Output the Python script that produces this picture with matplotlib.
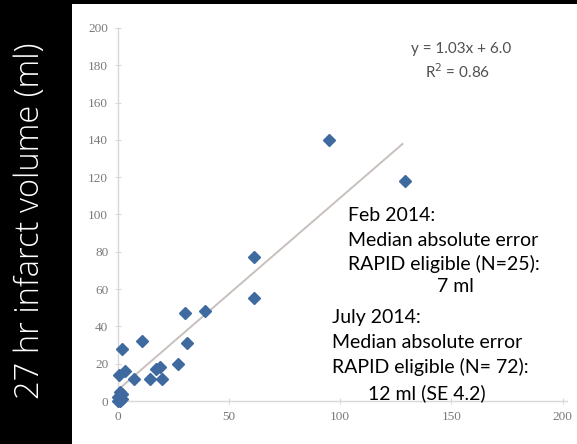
import matplotlib.pyplot as plt
from matplotlib.patches import Rectangle

# scatter data (predicted vs. 27 hr infarct volume, ml)
x_vals = [95, 129, 61, 61, 39, 30, 31, 27, 19, 17, 14.5, 20, 7, 11, 2, 3, 0.5,
          0, 1, 2, 1, 2, 1, 0]
y_vals = [140, 118, 77, 55, 48, 47, 31, 20, 18, 17, 12, 12, 12, 32, 28, 16, 14,
          0, 0, 1, 2, 4, 5, 2]

# trendline shown in the chart
slope = 1.03
intercept = 6.0
trend_x = [0, 128]

x_ticks = [0, 50, 100, 150, 200]
y_ticks = [0, 20, 40, 60, 80, 100, 120, 140, 160, 180, 200]

W, H = 577, 444
fig = plt.figure(figsize=(W / 100, H / 100), dpi=100)
fig.patch.set_facecolor('black')

# white slide panel
fig.patches.append(Rectangle((72 / W, 0), 1, (H - 4) / H, transform=fig.transFigure,
                             facecolor='white', edgecolor='none', zorder=-5))

ax = fig.add_axes([118 / W, (H - 401) / H, (567 - 118) / W, (401 - 28) / H])
ax.set_facecolor('none')

trend_y = [slope * v + intercept for v in trend_x]
ax.plot(trend_x, trend_y, color='#c8c0bc', lw=1.4, zorder=2)
ax.plot(x_vals, y_vals, linestyle='none', marker='D', ms=6.5, color='#3f6aa0',
        clip_on=False, zorder=3)

ax.set_xlim(0, 202)
ax.set_ylim(0, 200)
ax.set_xticks(x_ticks)
ax.set_yticks(y_ticks)
for s in ['top', 'right']:
    ax.spines[s].set_visible(False)
for s in ['left', 'bottom']:
    ax.spines[s].set_color('#d8d8d8')
    ax.spines[s].set_linewidth(1.0)
ax.tick_params(direction='inout', length=4, width=0.8, color='#d8d8d8',
               labelcolor='#7a7a7a', labelsize=9.5)
ax.tick_params(axis='y', pad=5)
ax.tick_params(axis='x', pad=5)
for lab in ax.get_xticklabels() + ax.get_yticklabels():
    lab.set_family('Liberation Serif')

# regression equation
fig.text(461 / W, 1 - 49 / H, 'y = 1.03x + 6.0', ha='center', va='center',
         fontsize=11, color='#505050', family='Lato')
fig.text(458 / W, 1 - 72 / H, 'R$^2$ = 0.86', ha='center', va='center',
         fontsize=11, color='#505050', family='Lato')

# notes
note_font = dict(fontsize=14, color='black', family='Lato', va='center')
fig.text(348 / W, 1 - 215 / H, 'Feb 2014:', ha='left', **note_font)
fig.text(348 / W, 1 - 240 / H, 'Median absolute error', ha='left', **note_font)
fig.text(348 / W, 1 - 264 / H, 'RAPID eligible (N=25):', ha='left', **note_font)
fig.text(455 / W, 1 - 287 / H, '7 ml', ha='center', **note_font)
fig.text(332 / W, 1 - 317 / H, 'July 2014:', ha='left', **note_font)
fig.text(332 / W, 1 - 342 / H, 'Median absolute error', ha='left', **note_font)
fig.text(332 / W, 1 - 367 / H, 'RAPID eligible (N= 72):', ha='left', **note_font)
fig.text(427 / W, 1 - 393 / H, '12 ml (SE 4.2)', ha='center', **note_font)

# axis title on the black strip
fig.text(30 / W, 1 - 221 / H, '27 hr infarct volume (ml)', rotation=90,
         ha='center', va='center', color='white', fontsize=23.5,
         family='Open Sans', fontweight='light')

fig.savefig('out.png', dpi=100, facecolor=fig.get_facecolor())
